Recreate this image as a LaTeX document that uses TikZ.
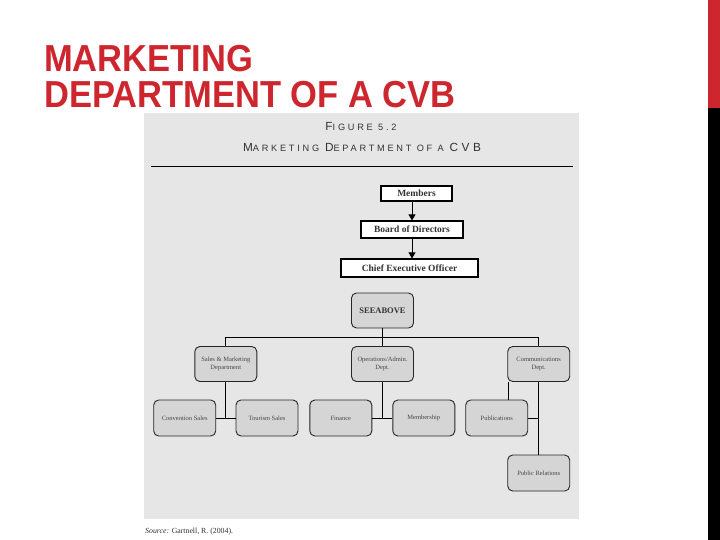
\documentclass[tikz,border=0pt]{standalone}
\usepackage{fontspec}
\setmainfont{Liberation Serif}
\newfontfamily\titlefont{Liberation Sans}
\newfontfamily\headfont[LetterSpace=30]{Liberation Sans}
\usetikzlibrary{arrows.meta}
\definecolor{cvbred}{RGB}{205,38,46}
\definecolor{panel}{RGB}{230,230,230}
\definecolor{boxgray}{RGB}{213,213,213}
\definecolor{ink}{RGB}{51,51,51}
\newcommand\bigc[1]{{\fontsize{11.8}{12}\selectfont #1}}
\newcommand\smlc[1]{{\fontsize{9.2}{12}\selectfont #1}}
\begin{document}
\begin{tikzpicture}[x=1pt,y=-1pt,
  topbox/.style={draw=black, line width=1.2pt, fill=white, inner sep=0pt, font=\fontsize{9.5}{10}\selectfont\bfseries, text=ink},
  rbox/.style={draw=black!85, line width=0.9pt, fill=boxgray, rounded corners=5pt, inner sep=1pt, align=center, font=\fontsize{6.5}{7.5}\selectfont, text=ink!90, minimum height=35pt, minimum width=62pt},
  link/.style={draw=black, line width=0.9pt},
  arr/.style={link, -{Triangle[length=6pt,width=7pt]}},
]
\useasboundingbox (0,0) rectangle (720,540);
\fill[white] (0,0) rectangle (720,540);
\fill[cvbred] (708,0) rectangle (720,108);
\fill[black] (708,108) rectangle (720,540);
\node[anchor=base west, text=cvbred, font=\titlefont\fontsize{34.5}{36}\selectfont\bfseries, inner sep=0] (t1) at (44,72) {\scalebox{1}[1.09]{MARKETING}};
\node[anchor=base west, text=cvbred, font=\titlefont\fontsize{34.5}{36}\selectfont\bfseries, inner sep=0] (t2) at (44,108) {\scalebox{1}[1.09]{DEPARTMENT OF A CVB}};

\fill[panel] (144,113) rectangle (579,519);
\node[anchor=base, inner sep=0, text=ink, font=\headfont] (fig) at (361,131) {\bigc{F}\smlc{IGURE 5.2}};
\node[anchor=base, inner sep=0, text=ink, font=\headfont] (sub) at (362,151.5) {\bigc{M}\smlc{ARKETING} \bigc{D}\smlc{EPARTMENT OF A} \bigc{CVB}};
\coordinate (rl) at (151,166);
\coordinate (rr) at (573,166);
\draw[line width=0.8pt] (rl) -- (rr);

\node[topbox, minimum width=71pt, minimum height=15pt] (mem) at (416.5,193.5) {Members};
\node[topbox, minimum width=102pt, minimum height=17pt] (bod) at (412,229.5) {Board of Directors};
\node[topbox, minimum width=137pt, minimum height=18pt] (ceo) at (409.5,268) {Chief Executive Officer};
\draw[arr] (mem.south -| bod.north) -- (bod.north);
\draw[arr] (bod.south) -- (bod.south |- ceo.north);

\node[rbox, font=\fontsize{8.5}{10}\selectfont\bfseries, text=ink] (see) at (382.5,310.5) {SEEABOVE};
\node[rbox] (sales) at (225.8,364) {Sales \& Marketing\\Department};
\node[rbox] (ops) at (382.5,364) {Operations/Admin.\\Dept.};
\node[rbox] (comm) at (538.7,364) {Communications\\Dept.};

\node[rbox, minimum height=36pt] (conv) at (184.7,418) {Convention Sales};
\node[rbox, minimum height=36pt] (tour) at (267,418) {Tourism Sales};
\node[rbox, minimum height=36pt] (fin) at (340.8,418) {Finance};
\node[rbox, minimum height=36pt] (memb) at (423.8,418) {Membership};
\node[rbox, minimum height=36pt] (pub) at (496.7,418) {Publications};
\node[rbox, minimum height=36pt] (pr) at (538.7,473) {Public Relations};

\coordinate (bus) at (382.5,337.5);
\coordinate (cl) at (508.5,400);
\draw[link] (see.south) -- (ops.north);
\draw[link] (sales.north) -- (sales.north |- bus) -- (comm.north |- bus) -- (comm.north);
\draw[link] (sales.south) -- (sales.south |- conv.east);
\draw[link] (conv.east) -- (tour.west);
\draw[link] (ops.south) -- (ops.south |- fin.east);
\draw[link] (fin.east) -- (memb.west);
\draw[link] (comm.south -| cl) -- (pub.north -| cl);
\draw[link] (comm.south) -- (pr.north);
\draw[link] (pub.east) -- (pub.east -| pr.north);

\node[anchor=base west, inner sep=0, text=ink, font=\fontsize{7.8}{9}\selectfont] (src) at (145,533.5) {\textit{Source:} Gartnell, R. (2004).};
\end{tikzpicture}
\end{document}
